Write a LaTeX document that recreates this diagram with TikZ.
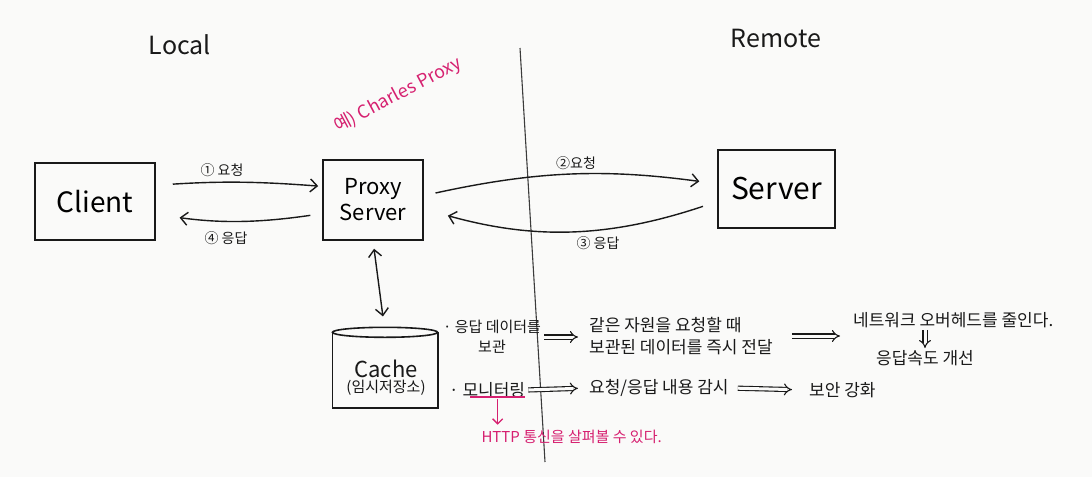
\documentclass[tikz,border=0pt]{standalone}
\usepackage{fontspec}
\setmainfont{Noto Sans CJK KR}
\usetikzlibrary{arrows.meta,calc}
\definecolor{ink}{RGB}{25,25,25}
\definecolor{pinkink}{RGB}{214,32,112}
\definecolor{paper}{RGB}{250,250,249}
\begin{document}
\begin{tikzpicture}[x=1pt,y=-1pt,
  box/.style={draw=ink, line width=1.6pt, inner sep=0pt},
  arr/.style={draw=ink, line width=1.4pt, -{Straight Barb[length=7pt,width=13pt,line width=1.4pt]}},
  dbl/.style={draw=ink, line width=1.1pt, double=paper, double distance=3pt, -{Implies}},
  lbl/.style={text=ink, font=\fontsize{14}{16}\selectfont},
  note/.style={text=ink, font=\fontsize{17}{22}\selectfont, inner sep=1pt},
  pinknote/.style={text=pinkink, font=\fontsize{15}{18}\selectfont},
  title/.style={text=ink, font=\fontsize{25}{28}\selectfont}]
\fill[paper] (0,0) rectangle (1092,477);
\useasboundingbox (0,0) rectangle (1092,477);

% divider
\coordinate (divtop) at (520,48);
\coordinate (divbot) at (545,462);
\draw[ink!85, line width=1.1pt] (divtop) -- (divbot);

% titles
\node[title] (local) at (180,45) {Local};
\node[title] (remote) at (776,38) {Remote};

% main boxes
\node[box, minimum width=120pt, minimum height=77pt, font=\fontsize{28}{30}\selectfont] (client) at (95,201.5) {Client};
\node[box, minimum width=100pt, minimum height=80pt, align=center, font=\fontsize{22}{26}\selectfont] (proxy) at (373,200) {Proxy\\Server};
\node[box, minimum width=117pt, minimum height=78pt, font=\fontsize{30}{32}\selectfont] (server) at (776.5,189) {Server};

% cache cylinder
\node[minimum width=105pt, minimum height=75pt, inner sep=0pt] (cache) at (385,370) {};
\draw[box] (cache.north west) -- (cache.south west) -- (cache.south east) -- (cache.north east);
\draw[box] (cache.north) ellipse [x radius=52.5pt, y radius=5pt];
\node[align=center, text=ink, inner sep=0pt] (cachetext) at (386,378) {{\fontsize{22}{24}\selectfont Cache}\\[1pt]{\fontsize{15}{18}\selectfont (임시저장소)}};

% pink example
\node[pinknote, font=\fontsize{18}{20}\selectfont, rotate=28] (ex) at (398,95) {예) Charles Proxy};

% arrow labels
\node[lbl] (l1) at (222,170) {① 요청};
\node[lbl] (l4) at (226,238) {④ 응답};
\node[lbl] (l2) at (576,163) {②요청};
\node[lbl] (l3) at (598,243) {③ 응답};

% request / response arrows
\draw[arr, shorten <=17pt, shorten >=4pt] (client.15) to[bend left=4] (proxy.165);
\draw[arr, shorten <=12pt, shorten >=24pt] (proxy.195) to[bend left=8] (client.-12);
\draw[arr, shorten <=12pt, shorten >=18pt] (proxy.5) to[bend left=10] (server.175);
\draw[arr, shorten <=15pt, shorten >=25pt] (server.192) to[bend left=17] (proxy.-10);

% proxy <-> cache
\draw[line width=1.4pt, draw=ink, {Straight Barb[length=7pt,width=13pt,line width=1.4pt]}-{Straight Barb[length=7pt,width=13pt,line width=1.4pt]}, shorten <=8pt, shorten >=16pt] (proxy.south) -- (cache.north);

% notes
\node[note, font=\fontsize{15}{20}\selectfont, align=center] (keep) at (492,337) {· 응답 데이터를\\보관};
\node[note, align=left, anchor=west] (deliver) at (588,336) {같은 자원을 요청할 때\\보관된 데이터를 즉시 전달};
\node[note, anchor=west] (overhead) at (852,320) {네트워크 오버헤드를 줄인다.};
\node[note] (speed) at (925,358) {응답속도 개선};
\node[note, anchor=west] (monitor) at (448,390) {· 모니터링};
\node[note, anchor=west] (watch) at (588,388) {요청/응답 내용 감시};
\node[note, anchor=west] (security) at (808,390) {보안 강화};
\node[pinknote, anchor=west] (http) at (478,437) {HTTP 통신을 살펴볼 수 있다.};

% double arrows
\draw[dbl, shorten <=2pt, shorten >=10pt] (keep.east) -- (keep.east -| deliver.west);
\draw[dbl, shorten <=18pt, shorten >=12pt] (deliver.east) -- (deliver.east -| overhead.west);
\draw[dbl, shorten <=1pt, shorten >=1pt] (overhead.south -| speed.north) -- (speed.north);
\draw[dbl, shorten <=2pt, shorten >=10pt] (monitor.east) -- (watch.west);
\draw[dbl, shorten <=8pt, shorten >=16pt] (watch.east) -- (security.west);

% pink underline and arrow
\coordinate (ulstart) at ($(monitor.south west)+(22,-2)$);
\coordinate (ulend) at ($(monitor.south east)+(-1,-2)$);
\coordinate (ulmid) at ($(ulstart)!0.5!(ulend)$);
\draw[pinkink, line width=1.3pt] (ulstart) -- (ulend);
\draw[pinkink, line width=1.3pt, -{Straight Barb[length=5pt,width=10pt,line width=1.3pt]}, shorten <=2pt, shorten >=2pt] (ulmid) -- (ulmid |- http.north);
\end{tikzpicture}
\end{document}
